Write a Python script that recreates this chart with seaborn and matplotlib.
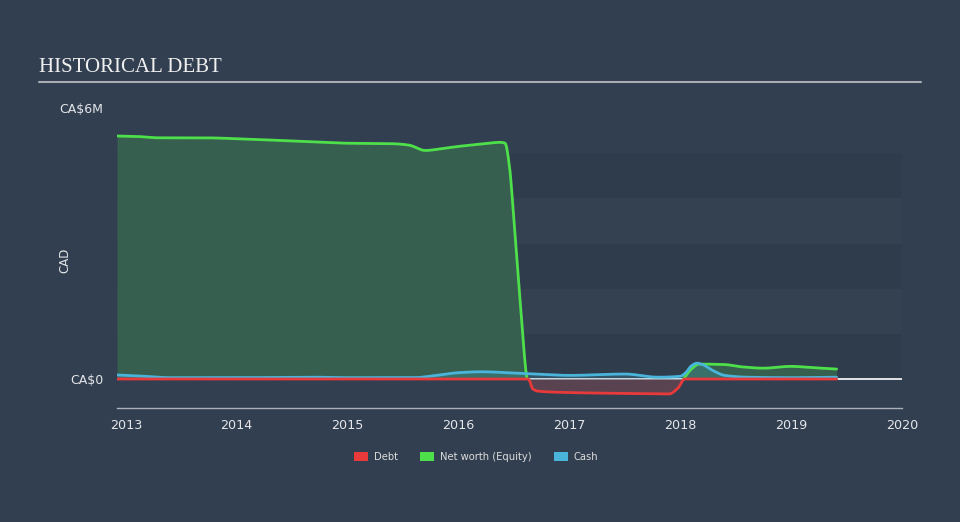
import numpy as np
import pandas as pd
import matplotlib
matplotlib.use("Agg")
import matplotlib.pyplot as plt
from matplotlib.patches import Patch
import seaborn as sns

# ---- data (CA$ millions) ----
equity_x = [2012.92, 2013.1, 2013.3, 2013.7, 2014.0, 2014.5, 2015.0, 2015.4, 2015.55, 2015.7, 2015.85,
            2016.0, 2016.2, 2016.38, 2016.42, 2016.46, 2016.5, 2016.56, 2016.62, 2016.66, 2016.7,
            2017.0, 2017.5, 2017.9, 2017.98, 2018.03, 2018.1, 2018.17, 2018.4, 2018.55, 2018.75,
            2019.0, 2019.2, 2019.41]
equity_y = [5.38, 5.37, 5.34, 5.34, 5.32, 5.27, 5.22, 5.21, 5.18, 5.06, 5.10,
            5.15, 5.20, 5.24, 5.22, 4.7, 3.5, 1.6, 0.0, -0.22, -0.27,
            -0.30, -0.32, -0.33, -0.2, 0.0, 0.22, 0.33, 0.32, 0.27, 0.24,
            0.28, 0.25, 0.22]

debt_x = [2012.92, 2016.6, 2016.63, 2016.67, 2016.72, 2017.0, 2017.5, 2017.9, 2017.98, 2018.04, 2018.5, 2019.41]
debt_y = [0.0, 0.0, 0.0, -0.22, -0.27, -0.30, -0.32, -0.33, -0.2, 0.0, 0.0, 0.0]

cash_x = [2012.92, 2013.1, 2013.4, 2014.0, 2014.7, 2015.0, 2015.6, 2015.8, 2016.0, 2016.2, 2016.6,
          2017.0, 2017.5, 2017.8, 2018.0, 2018.05, 2018.1, 2018.15, 2018.2, 2018.3, 2018.4,
          2018.6, 2019.0, 2019.41]
cash_y = [0.09, 0.07, 0.03, 0.03, 0.04, 0.03, 0.03, 0.08, 0.14, 0.16, 0.12,
          0.08, 0.11, 0.04, 0.06, 0.14, 0.29, 0.35, 0.32, 0.18, 0.08,
          0.04, 0.03, 0.04]

series_names = ["Debt", "Net worth (Equity)", "Cash"]
year_ticks = [2013, 2014, 2015, 2016, 2017, 2018, 2019, 2020]
y_tick_vals = [0, 6]
y_tick_labels = ["CA$0", "CA$6M"]

BG = "#323f50"
RED = "#e8393b"
GREEN = "#4ee04a"
BLUE = "#49b5da"

def smooth(xs, ys, n=1200):
    xs = np.asarray(xs, float); ys = np.asarray(ys, float)
    xx = np.linspace(xs[0], xs[-1], n)
    h = np.diff(xs); d = np.diff(ys) / h
    m = np.zeros_like(ys)
    m[0], m[-1] = d[0], d[-1]
    for i in range(1, len(xs) - 1):
        if d[i - 1] * d[i] <= 0:
            m[i] = 0
        else:
            w1 = 2 * h[i] + h[i - 1]; w2 = h[i] + 2 * h[i - 1]
            m[i] = (w1 + w2) / (w1 / d[i - 1] + w2 / d[i])
    idx = np.clip(np.searchsorted(xs, xx) - 1, 0, len(xs) - 2)
    t = (xx - xs[idx]) / h[idx]
    h00 = 2*t**3 - 3*t**2 + 1; h10 = t**3 - 2*t**2 + t
    h01 = -2*t**3 + 3*t**2; h11 = t**3 - t**2
    yy = h00*ys[idx] + h10*h[idx]*m[idx] + h01*ys[idx+1] + h11*h[idx]*m[idx+1]
    return xx, yy

sns.set_style("dark")
plt.rcParams["font.family"] = ["DejaVu Sans"]

fig = plt.figure(figsize=(9.6, 5.22), dpi=100, facecolor=BG)
W, H = 960, 522
ax = fig.add_axes([117 / W, 1 - 408 / H, (902 - 117) / W, (408 - 108) / H])
ax.set_facecolor(BG)

ax.set_xlim(2012.92, 2020.0)
ax.set_ylim(-0.642, 6.0)

# horizontal bands
for lo in [0, 2, 4]:
    ax.axhspan(lo, lo + 1, color="#2f3c4c", zorder=0, lw=0)
for lo in [1, 3]:
    ax.axhspan(lo, lo + 1, color="#344151", zorder=0, lw=0)

ex, ey = smooth(equity_x, equity_y)
dx, dy = smooth(debt_x, debt_y)
cx, cy = smooth(cash_x, cash_y)

# equity line is hidden where it sits below zero (covered by debt); split into visible segments
visible = ey >= -0.01
seg_id = np.cumsum(np.r_[True, visible[1:] != visible[:-1]])
eq_df = pd.DataFrame({"year": ex, "value": ey, "seg": seg_id})[visible]

debt_df = pd.DataFrame({"year": dx, "value": dy})
cash_df = pd.DataFrame({"year": cx, "value": cy})

ax.axhline(0, color="white", lw=1.2, zorder=1)

ax.fill_between(ex, np.clip(ey, 0, None), 0, color="#375f4f", alpha=1.0, lw=0, zorder=2)
ax.fill_between(cx, cy, 0, color=BLUE, alpha=0.2, lw=0, zorder=2.5)
ax.fill_between(dx, dy, 0, color="#5a4350", alpha=1.0, lw=0, zorder=3)

palette = {series_names[0]: RED, series_names[1]: GREEN, series_names[2]: BLUE}
for s, sub in eq_df.groupby("seg"):
    sns.lineplot(data=sub, x="year", y="value", color=GREEN, lw=2, ax=ax,
                 legend=False, sort=False, zorder=4)
sns.lineplot(data=cash_df, x="year", y="value", color=BLUE, lw=2, ax=ax,
             legend=False, sort=False, zorder=5)
sns.lineplot(data=debt_df, x="year", y="value", color=RED, lw=2, ax=ax,
             legend=False, sort=False, zorder=6)

for s in ["top", "right", "left"]:
    ax.spines[s].set_visible(False)
ax.spines["bottom"].set_color("#aab1bb")
ax.spines["bottom"].set_linewidth(1.0)

ax.set_xticks(year_ticks)
ax.set_xticklabels([str(y) for y in year_ticks])
ax.tick_params(axis="x", colors="#aab1bb", length=7, width=1.0, labelcolor="#e4e6ea",
               labelsize=9.2, pad=1)
ax.set_yticks(y_tick_vals)
ax.set_yticklabels(y_tick_labels, color="#e4e6ea", fontsize=9)
ax.tick_params(axis="y", length=0, pad=10)
ax.set_xlabel("")
ax.set_ylabel("")
ax.grid(False)

fig.text(65 / W, 1 - 260 / H, "CAD", rotation=90, fontsize=8.5, color="#e4e6ea",
         ha="center", va="center")

# title
fig.text(39 / W, 1 - 67 / H, "HISTORICAL DEBT", fontsize=15, color="#f0f0f0",
         family=["Liberation Serif", "DejaVu Serif"], va="center", ha="left")
fig.add_artist(plt.Line2D([39 / W, 921 / W], [1 - 82 / H, 1 - 82 / H],
                          color="#a9adb3", lw=1.5, transform=fig.transFigure))

handles = [Patch(facecolor=palette[n], edgecolor="none", label=n) for n in series_names]
leg = fig.legend(handles=handles, loc="center", bbox_to_anchor=(476 / W, 1 - 457 / H), ncol=3,
                 frameon=False, fontsize=7.2, handlelength=1.4, handleheight=1.0,
                 columnspacing=2.2, handletextpad=0.6)
for t in leg.get_texts():
    t.set_color("#dcdcdc")

fig.savefig("out.png", dpi=100, facecolor=BG)
